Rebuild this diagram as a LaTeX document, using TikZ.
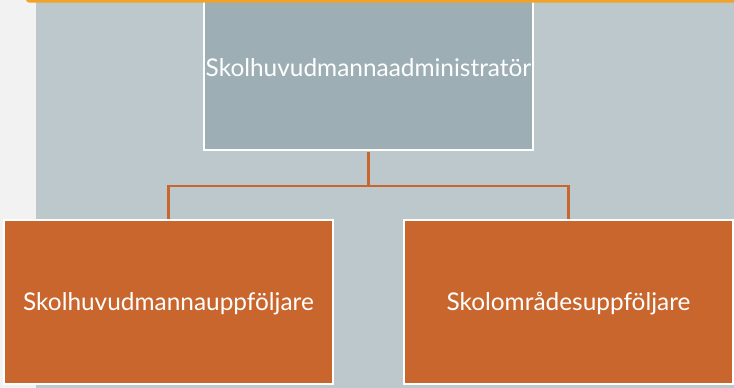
\documentclass[tikz,border=0pt]{standalone}
\usepackage{fontspec}
\setmainfont{Lato}
\usetikzlibrary{positioning}
\newcommand{\BoxWidth}{329}
\newcommand{\BoxHeight}{164}
\newcommand{\ForkGap}{35}
\newcommand{\PanelLeft}{36}
\newcommand{\BarLeft}{26}
\definecolor{PageGrey}{RGB}{242, 242, 242}
\definecolor{PanelGrey}{RGB}{189, 200, 204}
\definecolor{TopGrey}{RGB}{157, 175, 181}
\definecolor{BoxOrange}{RGB}{200, 102, 46}
\definecolor{BarOrange}{RGB}{242, 162, 40}

\begin{document}
\begin{tikzpicture}[x=1pt,y=-1pt]
  \tikzset{
    box/.style={draw=white, line width=1.5pt, minimum width=\BoxWidth pt, minimum height=\BoxHeight pt,
      inner sep=0pt, text=white, font=\fontsize{24.4}{29}\selectfont, text height=17pt, text depth=0pt},
    conn/.style={draw=BoxOrange, line width=2.5pt, shorten <=0.75pt, shorten >=0.75pt}
  }
  \useasboundingbox (0,0) rectangle (734,388);

  % Background
  \fill[PageGrey] (0,0) rectangle (734,388);
  \fill[PanelGrey] (\PanelLeft,0) rectangle (734,388);

  % Boxes
  \node[box, fill=TopGrey] (admin) at (368.5,68) {Skolhuvudmannaadministratör};
  \node[box, fill=BoxOrange] (huvudman) at (168.5,302) {Skolhuvudmannauppföljare};
  \node[box, fill=BoxOrange] (omrade) at (568.5,302) {Skolområdesuppföljare};

  % Connectors
  \coordinate[below=\ForkGap pt of admin] (fork);
  \draw[conn] (admin.south) -- (fork);
  \draw[conn] (huvudman.north) |- (fork) -| (omrade.north);

  % Top bar
  \fill[BarOrange, rounded corners=3pt] (\BarLeft,-4) rectangle (740,2.5);
\end{tikzpicture}
\end{document}
